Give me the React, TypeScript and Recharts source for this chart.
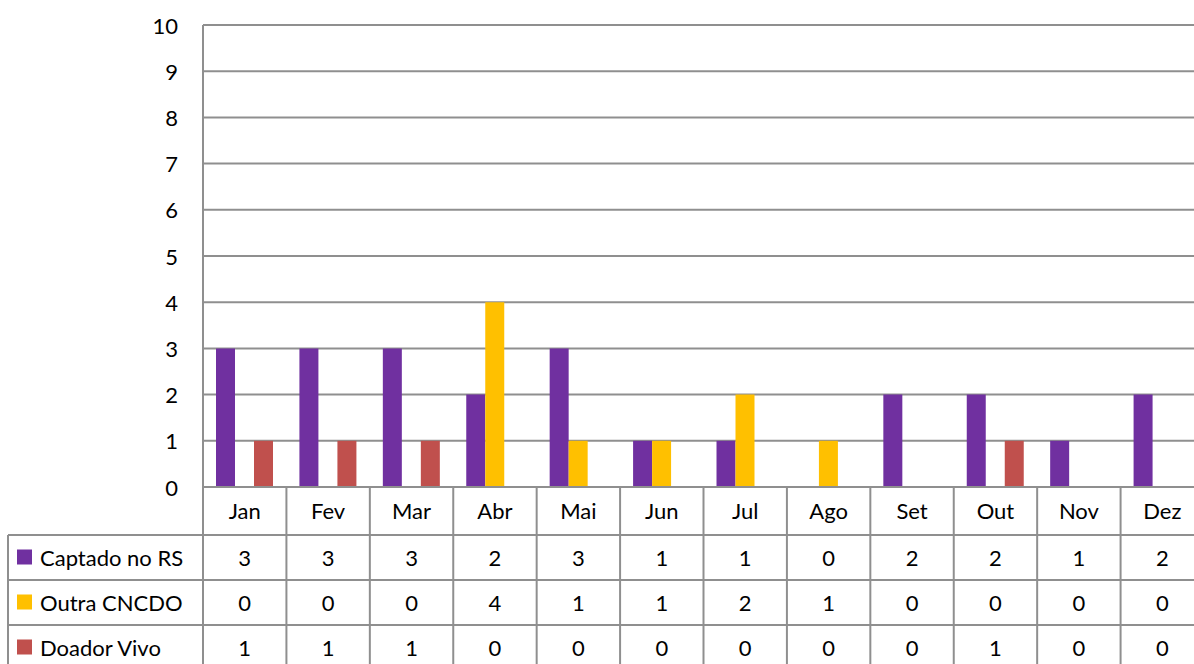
import React from 'react';
import { BarChart, Bar, XAxis, YAxis, CartesianGrid } from 'recharts';

const categories = ['Jan', 'Fev', 'Mar', 'Abr', 'Mai', 'Jun', 'Jul', 'Ago', 'Set', 'Out', 'Nov', 'Dez'];
const captado = [3, 3, 3, 2, 3, 1, 1, 0, 2, 2, 1, 2];
const outra = [0, 0, 0, 4, 1, 1, 2, 1, 0, 0, 0, 0];
const doador = [1, 1, 1, 0, 0, 0, 0, 0, 0, 1, 0, 0];
const yTicks = [0, 1, 2, 3, 4, 5, 6, 7, 8, 9, 10];

const series = [
  { key: 'captado', name: 'Captado no RS', color: '#7030A0', values: captado },
  { key: 'outra', name: 'Outra CNCDO', color: '#FFC000', values: outra },
  { key: 'doador', name: 'Doador Vivo', color: '#C0504D', values: doador },
];

const data = categories.map((c, i) => ({
  name: c,
  captado: captado[i],
  outra: outra[i],
  doador: doador[i],
}));

const CHART_W = 1210;
const CHART_H = 664;
const MARGIN = { top: 25, right: 6, bottom: 0, left: 0 };
const Y_W = 203;
const X_H = 177;
const PLOT_W = CHART_W - MARGIN.left - MARGIN.right - Y_W;
const BAND = PLOT_W / categories.length;
const ROW_H = [48, 45, 45, 45];
const LINE = '#8f8f8f';
const FONT = 'Lato, "Open Sans", sans-serif';
const FS = 22;
const TABLE_LEFT = 8;

const YTick = (props: any) => {
  const { y, payload } = props;
  return (
    <text x={Y_W - 25} y={y} textAnchor="end" dominantBaseline="central" fontSize={FS} fill="#000" fontFamily={FONT}>
      {payload.value}
    </text>
  );
};

const XTick = (props: any) => {
  const { x, y, payload, index } = props;
  const top = y;
  const rowTops: number[] = [];
  let acc = top;
  for (let r = 0; r < ROW_H.length; r++) {
    rowTops.push(acc);
    acc += ROW_H[r];
  }
  const bottom = acc;
  const left = x - BAND / 2;
  const right = x + BAND / 2;
  const els: any[] = [];
  els.push(
    <text key="cat" x={x} y={rowTops[0] + ROW_H[0] / 2 - 1} textAnchor="middle" dominantBaseline="central" fontSize={FS} fill="#000" fontFamily={FONT}>
      {payload.value}
    </text>
  );
  series.forEach((s, si) => {
    const rt = rowTops[si + 1];
    els.push(
      <line key={'h' + si} x1={left} x2={right} y1={rt} y2={rt} stroke={LINE} strokeWidth={2} />
    );
    els.push(
      <text key={'v' + si} x={x} y={rt + ROW_H[si + 1] / 2} textAnchor="middle" dominantBaseline="central" fontSize={FS} fill="#000" fontFamily={FONT}>
        {s.values[index]}
      </text>
    );
  });
  els.push(<line key="vr" x1={right} x2={right} y1={top} y2={bottom} stroke={LINE} strokeWidth={2} />);
  if (index === 0) {
    els.push(<line key="vl" x1={left} x2={left} y1={top} y2={bottom} stroke={LINE} strokeWidth={2} />);
    els.push(<line key="vll" x1={TABLE_LEFT} x2={TABLE_LEFT} y1={rowTops[1]} y2={bottom} stroke={LINE} strokeWidth={2} />);
    series.forEach((s, si) => {
      const rt = rowTops[si + 1];
      const mid = rt + ROW_H[si + 1] / 2;
      els.push(<line key={'lh' + si} x1={TABLE_LEFT} x2={left} y1={rt} y2={rt} stroke={LINE} strokeWidth={2} />);
      els.push(<rect key={'lr' + si} x={TABLE_LEFT + 9} y={mid - 8} width={15} height={15} fill={s.color} />);
      els.push(
        <text key={'lt' + si} x={TABLE_LEFT + 32} y={mid} dominantBaseline="central" fontSize={FS} fill="#000" fontFamily={FONT}>
          {s.name}
        </text>
      );
    });
  }
  return <g>{els}</g>;
};

export default function App() {
  return (
    <div style={{ position: 'absolute', left: 0, top: 0, width: 1194, height: 664, overflow: 'hidden', background: '#fff' }}>
      <BarChart width={CHART_W} height={CHART_H} data={data} margin={MARGIN} barGap={0} barSize={19}>
        <CartesianGrid vertical={false} stroke={LINE} strokeWidth={2} />
        <XAxis
          dataKey="name"
          height={X_H}
          tickLine={false}
          tickSize={0}
          tickMargin={0}
          axisLine={{ stroke: LINE, strokeWidth: 2 }}
          tick={<XTick />}
          interval={0}
        />
        <YAxis
          width={Y_W}
          domain={[0, 10]}
          ticks={yTicks}
          tickLine={false}
          tickSize={0}
          tickMargin={0}
          axisLine={{ stroke: LINE, strokeWidth: 2 }}
          tick={<YTick />}
          interval={0}
        />
        {series.map((s) => (
          <Bar key={s.key} dataKey={s.key} name={s.name} fill={s.color} isAnimationActive={false} />
        ))}
      </BarChart>
    </div>
  );
}
